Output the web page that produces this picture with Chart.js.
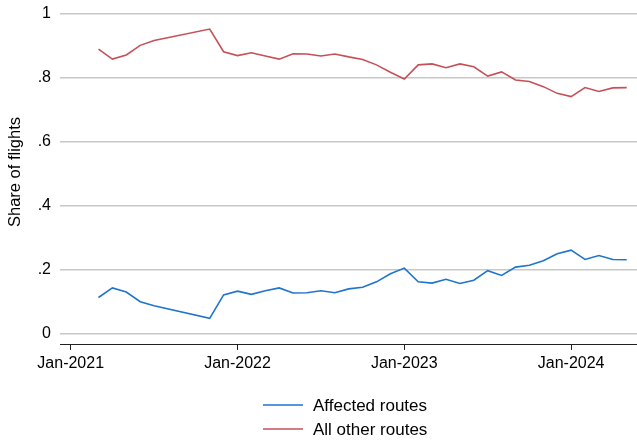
<!DOCTYPE html>
<html>
<head>
<meta charset="utf-8">
<script src="https://cdn.jsdelivr.net/npm/chart.js@4/dist/chart.umd.min.js"></script>
<style>
  body { margin: 0; background: #fff; }
  #chart { display: block; }
</style>
</head>
<body>
<canvas id="chart" width="637" height="440"></canvas>
<script>
// months counted from Jan-2021 (0); Aug-Oct 2021 missing
const monthIndex = [2, 3, 4, 5, 6, 10, 11,
  12, 13, 14, 15, 16, 17, 18, 19, 20, 21, 22, 23,
  24, 25, 26, 27, 28, 29, 30, 31, 32, 33, 34, 35,
  36, 37, 38, 39, 40];

const affected = [0.114, 0.144, 0.131, 0.101, 0.088, 0.049, 0.122,
  0.134, 0.124, 0.135, 0.144, 0.128, 0.129, 0.135, 0.129, 0.141, 0.146, 0.163, 0.188,
  0.206, 0.163, 0.159, 0.171, 0.158, 0.168, 0.198, 0.183, 0.209, 0.215, 0.229, 0.251,
  0.262, 0.233, 0.245, 0.233, 0.232];

const allOther = [0.890, 0.859, 0.872, 0.902, 0.917, 0.953, 0.882,
  0.870, 0.879, 0.869, 0.859, 0.876, 0.875, 0.869, 0.875, 0.866, 0.858, 0.841, 0.818,
  0.797, 0.841, 0.844, 0.832, 0.844, 0.835, 0.806, 0.819, 0.794, 0.789, 0.773, 0.752,
  0.742, 0.770, 0.758, 0.769, 0.770];

const xTickValues = [0, 12, 24, 36];
const xTickLabels = ['Jan-2021', 'Jan-2022', 'Jan-2023', 'Jan-2024'];
const yTickValues = [0, 0.2, 0.4, 0.6, 0.8, 1];
const seriesNames = ['Affected routes', 'All other routes'];

const BLUE = '#1f74cc';
const RED = '#c65058';
const FONT = "'Liberation Sans', Arial, sans-serif";

const toPoints = (vals) => vals.map((v, i) => ({ x: monthIndex[i], y: v }));

// stacked legend under the plot
const stackedLegend = {
  id: 'stackedLegend',
  afterDraw(chart) {
    const ctx = chart.ctx;
    ctx.save();
    ctx.font = '17px ' + FONT;
    ctx.textBaseline = 'middle';
    ctx.textAlign = 'left';
    chart.data.datasets.forEach((ds, i) => {
      const y = 405 + i * 24;
      ctx.strokeStyle = ds.borderColor;
      ctx.lineWidth = 1.6;
      ctx.beginPath();
      ctx.moveTo(263, y);
      ctx.lineTo(303, y);
      ctx.stroke();
      ctx.fillStyle = '#000';
      ctx.fillText(ds.label, 313, y + 1);
    });
    ctx.restore();
  }
};

new Chart(document.getElementById('chart'), {
  type: 'line',
  data: {
    datasets: [
      {
        label: seriesNames[0],
        data: toPoints(affected),
        borderColor: BLUE,
        borderWidth: 1.6,
        pointRadius: 0,
        tension: 0,
      },
      {
        label: seriesNames[1],
        data: toPoints(allOther),
        borderColor: RED,
        borderWidth: 1.6,
        pointRadius: 0,
        tension: 0,
      },
    ],
  },
  options: {
    responsive: false,
    animation: false,
    layout: { padding: { top: 0, left: 0, right: 0, bottom: 56 } },
    plugins: {
      legend: { display: false },
      tooltip: { enabled: false },
    },
    scales: {
      x: {
        type: 'linear',
        min: -0.77,
        max: 40.74,
        afterBuildTicks: (scale) => {
          scale.ticks = xTickValues.map((v) => ({ value: v }));
        },
        afterFit: (scale) => {
          scale.height = 40;
          scale.paddingLeft = 0;
          scale.paddingRight = 0;
        },
        ticks: {
          autoSkip: false,
          maxRotation: 0,
          padding: 4,
          color: '#000',
          font: { family: FONT, size: 16 },
          callback: (v) => xTickLabels[xTickValues.indexOf(v)],
        },
        grid: {
          drawOnChartArea: false,
          drawTicks: true,
          tickLength: 6,
          color: '#222',
        },
        border: { display: true, color: '#222', width: 1 },
      },
      y: {
        min: -0.03125,
        max: 1.04375,
        afterBuildTicks: (scale) => {
          scale.ticks = yTickValues.map((v) => ({ value: v }));
        },
        afterFit: (scale) => {
          scale.width = 60;
          scale.paddingTop = 0;
          scale.paddingBottom = 0;
        },
        ticks: {
          padding: 9,
          color: '#000',
          font: { family: FONT, size: 16 },
          callback: (v) => {
            if (v === 0) return '0';
            if (v === 1) return '1';
            return v.toFixed(1).replace(/^0/, '');
          },
        },
        grid: {
          color: '#c8c8c8',
          lineWidth: 1.5,
          drawTicks: false,
        },
        border: { display: false },
        title: {
          display: true,
          text: 'Share of flights',
          color: '#000',
          font: { family: FONT, size: 16.5 },
          padding: { top: 6, bottom: 0 },
        },
      },
    },
  },
  plugins: [stackedLegend],
});
</script>
</body>
</html>
